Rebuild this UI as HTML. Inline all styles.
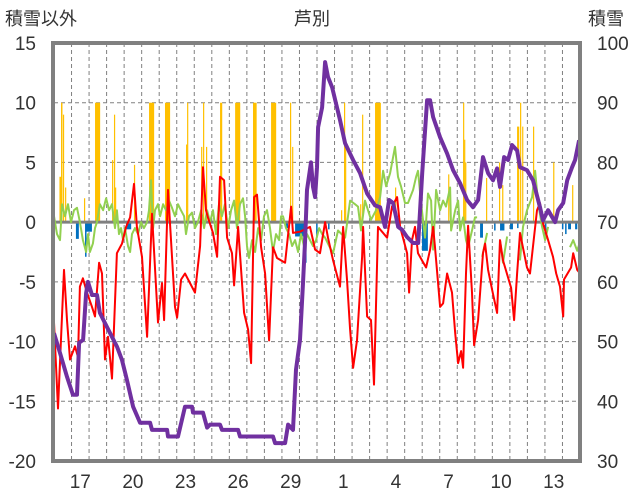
<!DOCTYPE html>
<html><head><meta charset="utf-8">
<style>
html,body{margin:0;padding:0;background:#fff;}
svg{display:block;font-family:"Liberation Sans","Noto Sans CJK JP",sans-serif;}
</style></head>
<body>
<svg id="chart" width="636" height="501" viewBox="0 0 636 501">
<text x="5" y="25" font-size="18" fill="#333">積雪以外</text>
<text x="312" y="25" font-size="18" fill="#333" text-anchor="middle">芦別</text>
<text x="588" y="25" font-size="18" fill="#333">積雪</text>
<g id="grid"></g><g id="bars"></g><g id="lines"></g><g id="axes"></g>
</svg>
<script>
// ---- data ----
const leftTicks=[15,10,5,0,-5,-10,-15,-20];
const rightTicks=[100,90,80,70,60,50,40,30];
const dayLabels=["17","20","23","26","29","1","4","7","10","13"];
const dayLabelPos=[1,4,7,10,13,16,19,22,25,28];
const redT=[0,.23,.57,.74,.91,1.2,1.37,1.48,1.65,1.88,2.17,2.34,2.57,2.74,2.91,3.08,3.31,3.59,3.88,4.11,4.34,4.56,4.73,5.02,5.31,5.59,5.93,6.16,6.28,6.5,6.9,7.02,7.25,7.47,8.04,8.33,8.5,8.67,8.78,9.07,9.3,9.47,9.7,9.87,10.15,10.27,10.5,10.84,11.07,11.24,11.41,11.58,11.81,12.04,12.27,12.49,12.72,13.18,13.52,13.63,14.03,14.6,14.89,15.17,15.46,15.63,15.92,16.31,16.49,16.71,16.89,17.06,17.28,17.57,17.63,17.86,18.08,18.25,18.48,19.0,19.28,19.57,19.74,20.14,20.25,20.42,20.59,20.76,20.99,21.22,21.45,21.62,21.73,22.02,22.19,22.42,22.7,22.88,23.05,23.22,23.33,23.5,23.62,23.84,23.96,24.19,24.47,24.59,24.76,24.99,25.27,25.44,25.61,26.07,26.24,26.41,26.58,26.98,27.15,27.55,27.72,27.89,28.18,28.46,28.64,28.86,29.04,29.09,29.49,29.61,29.84,29.95];
const redV=[-8.4,-15.6,-4.0,-8.2,-11.5,-10.4,-11.3,-5.4,-4.7,-5.9,-7.1,-7.9,-3.4,-4.3,-11.5,-9.6,-13.1,-2.6,-1.8,-0.4,0.4,3.2,-0.4,-2.9,-9.6,0.7,-8.4,-5.1,-8.2,2.7,-7.1,-8.0,-4.8,-4.3,-5.9,-2.0,4.6,1.0,0.4,-0.9,-2.9,3.8,3.5,-1.3,-2.6,-5.3,-0.4,-7.6,-9.0,-11.8,2.1,2.3,-2.1,-4.3,-9.9,-2.1,-3.0,-3.4,1.3,-0.9,-0.8,-0.4,-2.3,-2.6,0,-1.3,-3.2,-5.4,-0.4,-4.8,-9.0,-12.2,-9.9,-2.9,-0.4,-7.9,-8.2,-13.6,-0.4,-1.3,1.3,2.1,-0.4,-2.6,-5.9,-1.5,-0.4,-2.6,-3.2,-3.8,-2.3,-0.4,-2.1,-7.1,-6.8,-4.3,-5.9,-9.3,-11.8,-10.8,-12.2,-4.3,-0.3,-5.9,-10.3,-8.2,-2.6,-1.8,-4.0,-5.7,-7.6,-1.5,-3.2,-5.5,-8.2,-4.3,-0.9,-3.8,-4.3,1.0,1.6,-0.1,-1.5,-2.9,-4.3,-5.4,-7.9,-4.8,-3.8,-2.6,-4.0,-4.2];
const snowT=[0,.34,.74,1.08,1.31,1.43,1.66,1.83,1.94,2.17,2.45,2.62,2.91,3.2,3.6,3.88,4.16,4.51,4.91,5.48,5.59,6.45,6.5,7.07,7.47,7.87,7.93,8.5,8.73,8.9,9.47,9.58,10.5,10.61,12.49,12.61,13.18,13.35,13.63,13.8,14.03,14.2,14.32,14.43,14.66,14.77,14.89,15.0,15.06,15.29,15.46,15.63,15.86,16.31,16.6,17.06,17.46,17.86,18.31,18.6,18.88,19.11,19.34,19.63,19.86,20.14,20.48,20.77,21.0,21.28,21.45,21.62,22.02,22.42,22.76,23.16,23.56,23.9,24.19,24.47,24.76,25.04,25.27,25.44,25.67,25.9,26.13,26.41,26.58,26.98,27.32,27.72,27.89,28.18,28.58,28.75,29.04,29.27,29.55,29.72,29.95];
const snowV=[51.4,48.1,44.1,41.1,41.1,49.8,50.3,58.1,60,57.8,57.8,54.8,53.1,51.4,49.1,46.9,43.6,39.1,36.4,36.4,35.2,35.2,34.1,34.1,39.1,39.1,38.1,38.1,35.6,36.1,36.1,35.2,35.2,34.1,34.1,33.0,33.0,36.1,35.2,45.3,50.3,59.8,67,75.4,80,75.9,74.2,79.2,85.9,89.2,96.8,94.3,92.6,87.1,83.2,80.4,78.2,74.8,72.8,72.5,69.2,73.7,73.2,69.2,68.7,67.5,66.5,66.5,78.2,90.4,90.4,87.6,84.2,81.5,78.7,76.5,73.7,72.5,73.7,80.9,78.2,77.0,79.0,75.9,80.9,80.4,82.9,82.0,79.2,78.7,77.0,72.5,70.3,72.0,70.0,72.0,73.2,77.0,79.2,80.4,83.7];
const greenT=[0,.17,.34,.46,.63,.8,.97,1.14,1.31,1.48,1.65,1.83,1.94,2.05,2.22,2.34,2.45,2.62,2.8,2.97,3.14,3.31,3.48,3.59,3.71,3.82,3.94,4.05,4.22,4.34,4.45,4.62,4.79,4.96,5.13,5.31,5.42,5.53,5.65,5.76,5.93,6.05,6.22,6.39,6.56,6.73,6.9,7.07,7.24,7.42,7.53,7.7,7.87,8.04,8.21,8.39,8.56,8.73,8.9,9.07,9.24,9.41,9.58,9.75,9.93,10.1,10.27,10.44,10.61,10.78,10.9,11.01,11.12,11.3,11.47,11.64,11.81,11.98,12.15,12.32,12.49,12.66,12.84,12.95,13.06,13.23,13.41,13.58,13.75,13.92,14.09,14.26,14.43,14.6,14.77,14.95,15.12,15.29,15.46,15.69,15.92,16.2,16.6,16.89,17.17,17.34,17.51,17.74,18.08,18.37,18.6,18.77,18.94,19.17,19.45,19.62,19.79,20.02,20.19,20.48,20.65,20.76,20.94,21.16,21.33,21.51,21.62,21.79,22.02,22.19,22.36,22.59,22.65,22.88,23.05,23.16,23.33,23.5,23.62,23.84,24.01,24.13,24.2,24.42,24.7,25.0,25.44,25.61,25.84,26.2,26.58,26.75,26.98,27.27,27.44,27.61,27.84,28.01,28.18,28.8,29.43,29.61,29.84,29.95];
const greenV=[0.5,-1.0,-1.5,1.5,0.5,1.5,0,1.0,1.2,0,-1.5,-2.5,-1.0,-2.5,-1.8,-0.5,0,1.5,1.0,2.0,1.0,1.5,-0.5,1.0,-1.0,-0.5,-1.5,-0.5,-2.0,-2.5,-1.0,-0.5,-1.0,0,-0.5,0,1.0,3.5,-0.5,1.0,1.5,0.5,1.5,1.0,1.8,1.2,0.5,1.5,1.0,0.5,-1.0,0.5,0.8,-0.5,0,1.0,-0.5,1.0,0,1.0,-1.0,1.5,0.5,1.5,-0.5,1.0,1.8,-0.5,1.5,2.0,0.5,-2.0,-3.0,-1.5,-2.5,-0.5,-1.5,0.5,1.0,-0.5,-2.5,-1.0,-1.5,0.5,0.5,-0.5,-1.0,-2.0,-1.5,-2.5,-1.0,-2.0,-1.0,-1.5,-2.0,-1.5,-0.5,-1.0,-1.3,-2.0,-2.6,-0.7,-1.3,1.8,1.5,1.3,-0.7,1.8,0.2,1.0,2.1,4.3,3.0,4.1,6.3,3.8,3.0,1.6,1.6,2.7,3.8,4.3,1.6,-1.3,2.4,1.8,-2.3,2.7,1.0,1.8,1.3,2.9,-0.7,1.0,1.8,-0.7,0.4,-1.5,-2.1,-0.7,0.4,0.4,null,-2.9,-0.9,null,-1.5,-3.4,-1.2,null,-3.2,-0.4,1.0,2.1,4.3,1.6,-0.4,-1.5,-0.4,null,-2.1,-1.5,-2.4,-1.9];
const rainT=[.31,.40,.51,.63,1.71,2.34,3.31,3.42,3.48,4.56,5.42,6.33,7.53,7.59,8.39,8.5,8.67,9.47,10.33,11.35,12.38,13.46,13.58,16.37,16.54,16.6,17.46,17.57,18.31,19.45,22.48,23.33,23.39,23.45,24.64,25.38,25.56,26.41,26.58,26.7,27.32,28.47,29.55];
const rainHours=[3,2,1,1,1,7,1,1,1,1,7,7,1,1,1,1,1,3,7,5,7,1,1,1,1,1,1,1,8,1,1,1,1,1,1,1,1,3,1,1,1,1,1];
const rainV=[3.8,10,9,2.9,2.0,10,5.2,9,2.9,4.8,10,10,6.5,10,6.3,10,6.3,10,10,10,10,10,6.3,1.0,10,6.9,1.5,9,10,2.9,4,10,6.9,5,3.7,5,3.1,8,10,8,8,5,3.1];
const blueT=[1.25,1.77,1.83,4.11,8.04,13.18,13.75,14.32,14.95,15.63,20.99,24.3,25.1,25.44,26.01,26.41,28.0,28.97,29.15,29.32,29.72];
const blueHours=[4,1,8,7,1,4,15,1,2,2,8,4,1,6,4,1,1,1,1,4,3];
const blueV=[-1.4,-2.9,-0.8,-0.6,-0.3,-0.5,-1.2,-3.4,-1.3,-0.6,-2.4,-1.3,-0.7,-0.7,-0.6,-0.5,-1.0,-0.6,-1.0,-0.6,-0.6];

// ---- scales ----
const X0=54,X1=580,Y0=43,Y1=461,DAYS=30;
const xs=t=>X0+t*(X1-X0)/DAYS;
const yL=v=>Y1-(v+20)*(Y1-Y0)/35;
const yR=v=>Y1-(v-30)*(Y1-Y0)/70;
const NS="http://www.w3.org/2000/svg";
function mk(tag,attrs,parent){const e=document.createElementNS(NS,tag);for(const k in attrs)e.setAttribute(k,attrs[k]);parent.appendChild(e);return e;}
const grid=document.getElementById('grid'),bars=document.getElementById('bars'),lines=document.getElementById('lines'),axes=document.getElementById('axes');

for(let d=1;d<DAYS;d++){
  const l=mk('line',{x1:xs(d),x2:xs(d),y1:Y0,y2:Y1,stroke:'#808080','stroke-width':1,'stroke-dasharray':'4,3'},grid);
  
  
}
leftTicks.forEach((v,i)=>{
  if(v!==15&&v!==-20&&v!==0){
    const l=mk('line',{x1:X0,x2:X1,y1:yL(v),y2:yL(v),stroke:'#808080','stroke-width':1,'stroke-dasharray':'4,3'},grid);
    
    
  }
  const t=mk('text',{x:36,y:yL(v)+7,'font-size':19,'text-anchor':'end',fill:'#333'},axes);
  t.textContent=v;
  
  
  const r=mk('text',{x:597,y:yR(rightTicks[i])+7,'font-size':19,fill:'#333'},axes);
  r.textContent=rightTicks[i];
  
  
});
dayLabels.forEach((s,i)=>{
  const t=mk('text',{x:xs(dayLabelPos[i]+0.5),y:488,'font-size':19,'text-anchor':'middle',fill:'#333'},axes);
  t.textContent=s;
  
  
});
rainT.forEach((t,i)=>{
  const w=Math.max(1.2,rainHours[i]/24*(X1-X0)/DAYS);
  const r=mk('rect',{x:xs(t),y:yL(rainV[i]),width:w,height:yL(0)-yL(rainV[i]),fill:'#FFC000'},bars);
  
  
});
blueT.forEach((t,i)=>{
  const w=Math.max(1.5,blueHours[i]/24*(X1-X0)/DAYS);
  const r=mk('rect',{x:xs(t),y:yL(0),width:w,height:yL(blueV[i])-yL(0),fill:'#0070C0'},bars);
  
  
});
const zl=mk('line',{x1:X0,x2:X1,y1:yL(0),y2:yL(0),stroke:'#808080','stroke-width':3},bars);



function path(T,V,ys){let d='',pen=false;T.forEach((t,i)=>{if(V[i]===null||V[i]===undefined){pen=false;return;}d+=(pen?'L':'M')+xs(t).toFixed(1)+','+ys(V[i]).toFixed(1);pen=true;});return d;}
const g=mk('path',{d:path(greenT,greenV,yL),fill:'none',stroke:'#92D050','stroke-width':2,'stroke-linejoin':'round'},lines);


const r=mk('path',{d:path(redT,redV,yL),fill:'none',stroke:'#FF0000','stroke-width':2,'stroke-linejoin':'round'},lines);


const p=mk('path',{d:path(snowT,snowV,yR),fill:'none',stroke:'#7030A0','stroke-width':4,'stroke-linejoin':'round'},lines);


const fr=mk('rect',{x:X0-1,y:Y0,width:X1-X0+1,height:Y1-Y0,fill:'none',stroke:'#808080','stroke-width':4},axes);


</script>
</body></html>
